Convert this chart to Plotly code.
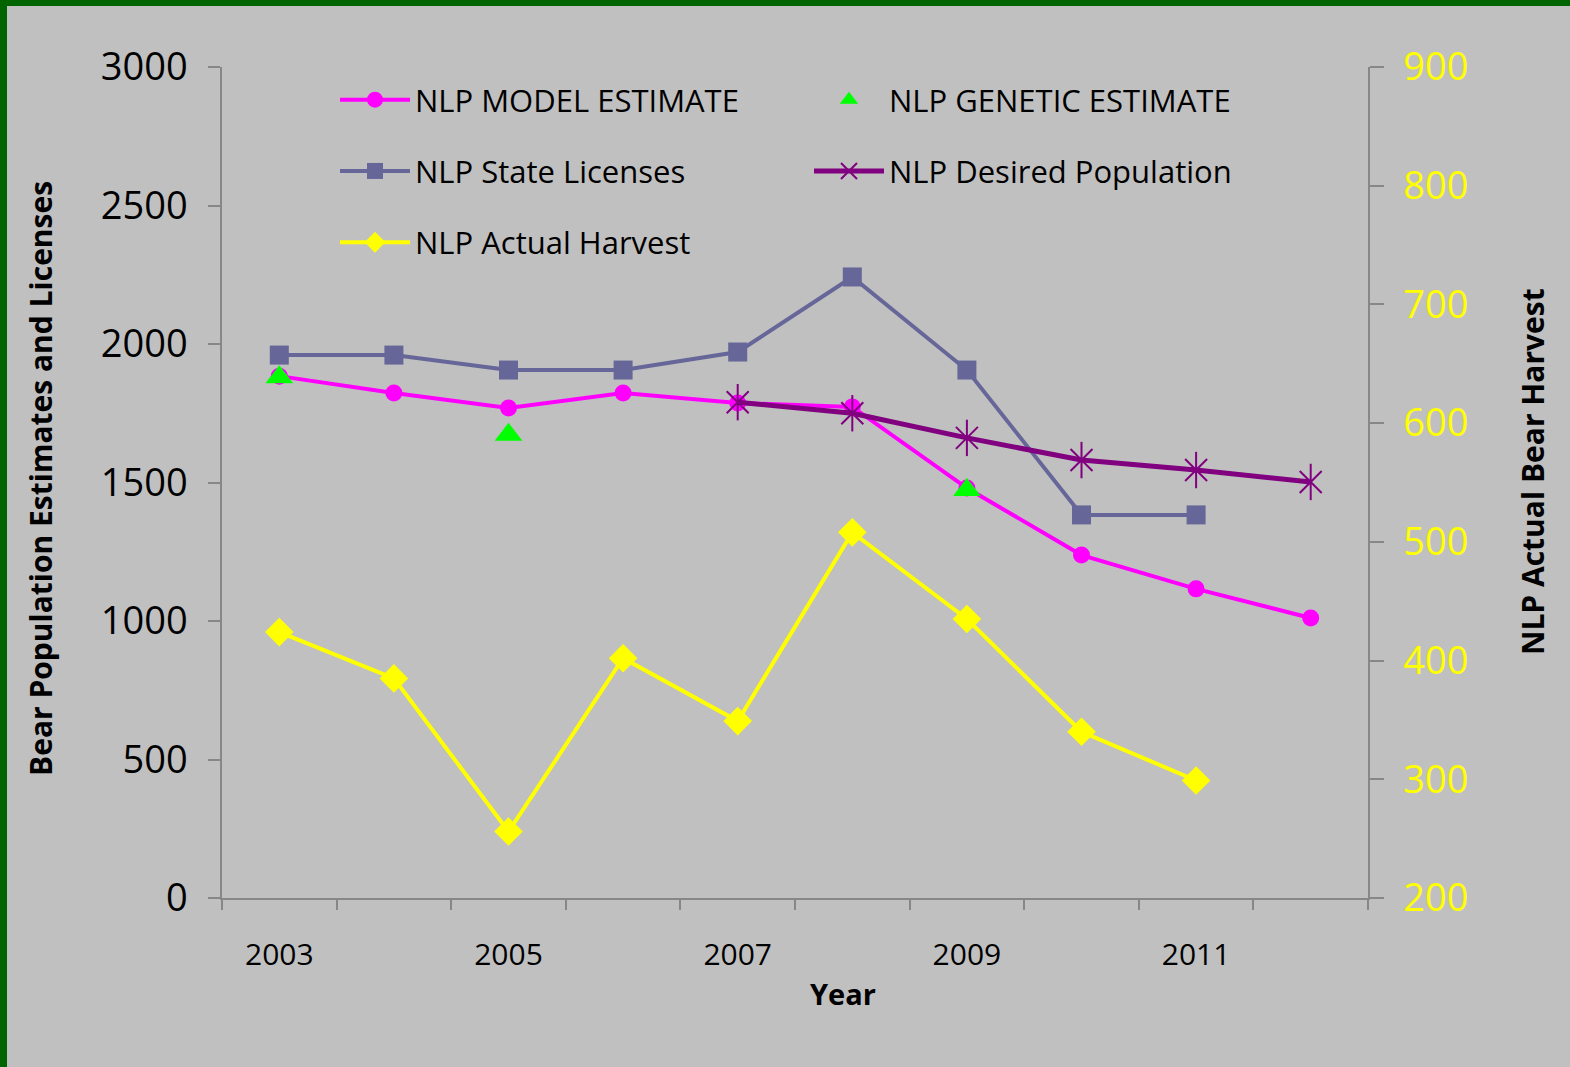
import plotly.graph_objects as go

# ---------------- data ----------------
years = [2003, 2004, 2005, 2006, 2007, 2008, 2009, 2010, 2011, 2012]
model_estimate = [1884, 1823, 1769, 1823, 1787, 1773, 1480, 1238, 1116, 1011]
genetic_years = [2003, 2005, 2009]
genetic_estimate = [1880, 1672, 1473]
license_years = [2003, 2004, 2005, 2006, 2007, 2008, 2009, 2010, 2011]
state_licenses = [1960, 1960, 1906, 1906, 1971, 2242, 1906, 1383, 1383]
desired_years = [2007, 2008, 2009, 2010, 2011, 2012]
desired_population = [1790, 1750, 1661, 1581, 1545, 1502]
harvest_years = [2003, 2004, 2005, 2006, 2007, 2008, 2009, 2010, 2011]
actual_harvest = [424, 385, 256, 402, 349, 508, 435, 340, 299]
x_tick_labels = [2003, 2005, 2007, 2009, 2011]

# ---------------- layout geometry ----------------
W, H = 1570, 1067
L, R, T, B = 222, 202, 67, 169
PW, PH = W - L - R, H - T - B


def px_x(px):
    return (px - L) / PW


def px_y(py):
    return (H - B - py) / PH


FONT = "Open Sans"
AXIS_COLOR = "#878787"

fig = go.Figure()

fig.add_trace(go.Scatter(
    x=years, y=model_estimate, name="NLP MODEL ESTIMATE", mode="lines+markers",
    line=dict(color="#FF00FF", width=4), marker=dict(symbol="circle", size=17, color="#FF00FF"),
    legend="legend", legendgroup="a", legendrank=1))
fig.add_trace(go.Scatter(
    x=license_years, y=state_licenses, name="NLP State Licenses", mode="lines+markers",
    line=dict(color="#666699", width=4), marker=dict(symbol="square", size=19, color="#666699"),
    legend="legend", legendgroup="b", legendrank=2))
fig.add_trace(go.Scatter(
    x=desired_years, y=desired_population, name="NLP Desired Population", mode="lines+markers",
    line=dict(color="#800080", width=5),
    marker=dict(symbol="x-thin-open", size=22, color="#800080", line=dict(color="#800080", width=2)),
    legend="legend2", legendgroup="d", legendrank=2))
fig.add_trace(go.Scatter(
    x=desired_years, y=desired_population, name="NLP Desired Population", mode="markers",
    marker=dict(symbol="line-ns-open", size=26, color="#800080", line=dict(color="#800080", width=2)),
    legend="legend2", legendgroup="d", showlegend=False, hoverinfo="skip"))
fig.add_trace(go.Scatter(
    x=genetic_years, y=genetic_estimate, name="NLP GENETIC ESTIMATE", mode="markers",
    marker=dict(symbol="triangle-up", size=24, color="#00FF00"),
    legend="legend2", legendgroup="c", legendrank=1))
fig.add_trace(go.Scatter(
    x=harvest_years, y=actual_harvest, name="NLP Actual Harvest", mode="lines+markers",
    line=dict(color="#FFFF00", width=4), marker=dict(symbol="diamond", size=22, color="#FFFF00"),
    yaxis="y2", legend="legend", legendgroup="e", legendrank=3))

boundaries = [y - 0.5 for y in years] + [years[-1] + 0.5]

legend_common = dict(
    xanchor="left", yanchor="top", bgcolor="rgba(0,0,0,0)", borderwidth=0, orientation="v",
    font=dict(size=31, family=FONT, color="black"), tracegroupgap=28, traceorder="grouped",
    itemwidth=70,
)

fig.update_layout(
    width=W, height=H,
    margin=dict(l=L, r=R, t=T, b=B, autoexpand=False),
    paper_bgcolor="#C0C0C0", plot_bgcolor="#C0C0C0",
    font=dict(family=FONT, color="black"),
    showlegend=True,
    xaxis=dict(
        range=[boundaries[0], boundaries[-1]], showgrid=False, zeroline=False,
        showline=True, linecolor=AXIS_COLOR, linewidth=1.5,
        tickmode="array", tickvals=x_tick_labels, ticktext=[str(v) for v in x_tick_labels],
        ticks="", tickfont=dict(size=30, family=FONT), ticklabelstandoff=29,
        minor=dict(tickmode="array", tickvals=boundaries, ticks="outside", ticklen=10,
                   tickcolor=AXIS_COLOR, tickwidth=1.5, showgrid=False),
    ),
    yaxis=dict(
        range=[0, 3000], tickvals=[0, 500, 1000, 1500, 2000, 2500, 3000],
        showgrid=False, zeroline=False, showline=True, linecolor=AXIS_COLOR, linewidth=1.5,
        ticks="outside", ticklen=12, tickcolor=AXIS_COLOR, tickwidth=1.5,
        tickfont=dict(size=38, family=FONT, color="black"), ticklabelstandoff=13,
    ),
    yaxis2=dict(
        range=[200, 900], tickvals=[200, 300, 400, 500, 600, 700, 800, 900],
        overlaying="y", side="right", anchor="x",
        showgrid=False, zeroline=False, showline=True, linecolor=AXIS_COLOR, linewidth=1.5,
        ticks="outside", ticklen=14, tickcolor=AXIS_COLOR, tickwidth=1.5,
        tickfont=dict(size=38, family=FONT, color="#FFFF00"), ticklabelstandoff=12,
    ),
    legend=dict(x=px_x(335), y=px_y(73), **legend_common),
    legend2=dict(x=px_x(809), y=px_y(73), **legend_common),
    annotations=[
        dict(text="<b>Bear Population Estimates and Licenses</b>", textangle=-90,
             x=px_x(40), y=px_y(479), xref="paper", yref="paper", showarrow=False,
             xanchor="center", yanchor="middle", font=dict(size=30, family=FONT, color="black")),
        dict(text="<b>NLP Actual Bear Harvest</b>", textangle=-90,
             x=px_x(1532), y=px_y(472), xref="paper", yref="paper", showarrow=False,
             xanchor="center", yanchor="middle", font=dict(size=30, family=FONT, color="black")),
        dict(text="<b>Year</b>",
             x=px_x(843), y=px_y(993), xref="paper", yref="paper", showarrow=False,
             xanchor="center", yanchor="middle", font=dict(size=29, family=FONT, color="black")),
    ],
    shapes=[
        dict(type="rect", xref="paper", yref="paper", x0=px_x(0), x1=px_x(W), y0=px_y(6), y1=px_y(0),
             fillcolor="#006400", line=dict(width=0), layer="above"),
        dict(type="rect", xref="paper", yref="paper", x0=px_x(0), x1=px_x(7), y0=px_y(H), y1=px_y(0),
             fillcolor="#006400", line=dict(width=0), layer="above"),
    ],
)

fig.write_html("out.html", config={"displayModeBar": False},
               post_script="document.body.style.margin='0';document.body.style.overflow='hidden';")
